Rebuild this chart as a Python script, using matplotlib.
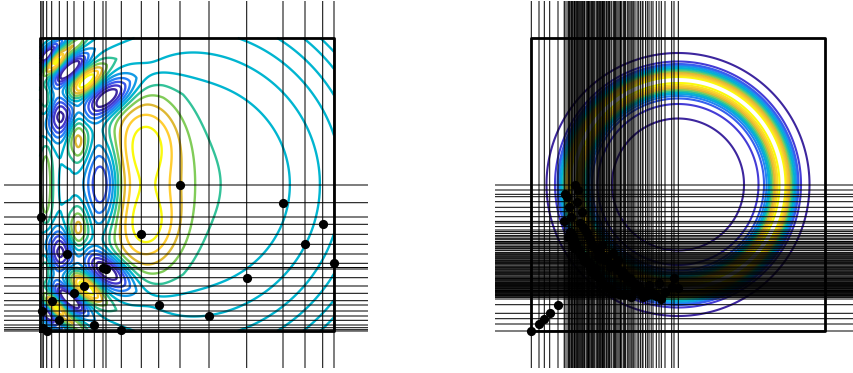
import numpy as np
import matplotlib
matplotlib.use("Agg")
import matplotlib.pyplot as plt
from matplotlib.colors import LinearSegmentedColormap

# everything is in box units: the square frame runs 0..294 by 0..293
BOX_W = 294
BOX_H = 293

# left panel samples
left_x = [140, 243, 282.7, 265, 294, 206.7, 169, 0.7, 101.3, 27.3, 66, 118.7,
          43.7, 34, 11.7, 2, 19.3, 54.3, 81.3, 3.3, 6.7, 63]
left_y = [146, 128.3, 106.7, 86.7, 67.7, 53.3, 15, 114, 96.7, 77, 62, 26,
          45, 37.7, 30.3, 20, 10.7, 6, 1.3, 3.3, 0, 63.5]

# right panel samples
right_x = [0.3, 8, 13.3, 18.7, 27, 44, 47.3, 34, 36, 45.7, 38.3, 50.7, 40, 49, 54, 58.3,
           70.7, 65.7, 82.3, 67.3, 74, 64, 87, 79, 92.3, 99, 104, 118, 128, 112, 143,
           140.7, 147.3, 134, 130.3, 122, 51.6, 55.7, 60.4, 62.3, 68.6, 72.4, 76.2, 77.6,
           80.7, 84.4, 85.8, 89.5, 90.7, 94.6, 96.3, 97.8, 101.2, 102.7, 106.1, 107.7,
           109.4, 111.2, 114.6, 116.3, 120.2, 125.3, 33.2, 37.4, 41.6, 42.8,
           38.9, 40.6, 43.5, 44.9, 46.4, 48.2, 49.8, 52.7, 53.4, 56.6, 57.5, 59.2,
           61.4, 63.2, 66.6, 69.4, 71.5, 73.3, 75.4, 78.6, 83.4, 88.2, 93.4, 100.2]
right_y = [0, 7, 12.3, 17.7, 26.3, 146, 141, 136.7, 134.3, 129.3, 123.7, 119.3, 114.3, 108, 101, 92.7,
           86, 81, 77.7, 74.3, 71, 62.7, 71, 64.3, 59.3, 53, 42, 46, 48, 34.3, 53,
           44.3, 43, 39.3, 32, 38, 104.4, 97.6, 89.5, 84.6, 78.4, 75.3, 72.6, 68.4,
           66.7, 65.2, 61.6, 60.3, 56.4, 55.2, 52.6, 50.4, 49.3, 47.6, 46.4, 44.8,
           41.2, 39.6, 40.5, 36.3, 37.2, 35.4, 109.6, 94.2, 88.3, 83.2,
           99.4, 95.6, 91.3, 87.4, 82.6, 80.3, 76.4, 73.7, 70.2, 69.3, 67.6, 63.4,
           58.6, 57.4, 54.2, 51.6, 48.4, 45.6, 43.7, 42.4, 38.4, 36.9, 35.8, 33.6]

# ring radii of the right panel contours and their place on the colour scale
ring_radii = [66, 80.5, 86, 88.5, 90.5, 92, 93.5, 95, 96.5, 98, 99.5, 101.5,
              107.5, 109, 110.5, 112, 113.5, 115, 116.5, 118, 119.5, 120.5, 123, 131.5]
ring_shade = [0.0, .12, .22, .32, .42, .5, .6, .7, .8, .86, .93, 1.0,
              1.0, .93, .86, .8, .7, .6, .5, .42, .32, .22, .12, 0.0]

# left panel contour field: far rings (radius, value) ...
far_radius = [0, 90, 102, 118, 133, 144, 155, 164, 172, 180, 187, 193, 198, 205, 230]
far_value = [.05, .05, 0, -.12, 0, .12, 0, -.12, 0, .12, 0, -.12, 0, .12, .12]

# ... plus lobes, mirrored about the horizontal midline
lobe_x = [68, 20.5, 62, 30, 7, 46, 16, 38, 105, 125, 6, 6, 36, 21]
lobe_d = [87, 68, 0, 115, 129, 103, 122, 45, 45, 0, 85, 0, 140, 142]
lobe_major = [19, 16, 32, 14, 9, 16, 11, 17, 33, 45, 12, 28, 10, 6]
lobe_minor = [10, 9, 12, 6, 4, 7, 4.5, 8, 26, 42, 5, 5, 4, 3]
lobe_tilt = [35, 80, 90, 40, 50, 40, 50, 90, 90, 0, 90, 90, 40, 40]
lobe_amp = [-1.25, -1.2, -.55, -1.3, -1.3, 1.1, 1.0, .8, .9, .15, .55, .25, .45, -.3]

parula = LinearSegmentedColormap.from_list("parula_like", [
    (0.0, (0.24, 0.15, 0.62)), (0.15, (0.28, 0.26, 0.90)), (0.3, (0.15, 0.50, 0.97)),
    (0.5, (0.0, 0.71, 0.82)), (0.6, (0.2, 0.76, 0.6)), (0.7, (0.5, 0.8, 0.35)),
    (0.8, (0.87, 0.72, 0.20)), (0.9, (1.00, 0.80, 0.20)), (1.0, (0.98, 0.98, 0.05))])


def left_field(x, y):
    d = y - BOX_H / 2
    z = np.interp(np.hypot(x - BOX_W / 2, d), far_radius, far_value)
    for cx, cd, ma, mi, tilt, amp in zip(lobe_x, lobe_d, lobe_major, lobe_minor, lobe_tilt, lobe_amp):
        t = np.radians(tilt)
        for s in (1, -1):
            # tilt flips with the mirror so both halves match
            dx = x - cx
            dy = d - s * cd
            u = dx * np.cos(t) + s * dy * np.sin(t)
            v = -dx * np.sin(t) + s * dy * np.cos(t)
            z = z + amp * np.exp(-u**2 / (2 * ma**2) - v**2 / (2 * mi**2))
    return z


def decorate(ax, xs, ys):
    for v in xs:
        ax.axvline(v, color='black', lw=0.72, zorder=3, snap=False)
    for v in ys:
        ax.axhline(v, color='black', lw=0.72, zorder=3, snap=False)
    ax.plot([0, BOX_W, BOX_W, 0, 0], [0, 0, BOX_H, BOX_H, 0], color='black', lw=2, zorder=4)
    ax.scatter(xs, ys, s=44, color='black', zorder=5, linewidths=0, clip_on=False)
    ax.set_xlim(-36, 328)
    ax.set_ylim(-37, 330)
    ax.axis('off')


W, H = 854, 373
fig = plt.figure(figsize=(W / 100, H / 100), dpi=100)
ax1 = fig.add_axes([4 / W, 5 / H, 364 / W, 367 / H])
ax2 = fig.add_axes([495 / W, 5 / H, 364 / W, 367 / H])

gx, gy = np.meshgrid(np.linspace(0, BOX_W, 700), np.linspace(0, BOX_H, 700))

levels = np.linspace(-1, 1, 11)
ax1.contour(gx, gy, left_field(gx, gy), levels=levels, colors=[parula(i / 10) for i in range(11)],
            linewidths=1.7, linestyles='solid', zorder=2)
decorate(ax1, left_x, left_y)

radius = np.hypot(gx - BOX_W / 2, gy - BOX_H / 2)
ax2.contour(gx, gy, radius, levels=ring_radii, colors=[parula(s) for s in ring_shade],
            linewidths=1.5, zorder=2)
decorate(ax2, right_x, right_y)

fig.savefig('out.png', dpi=100)
